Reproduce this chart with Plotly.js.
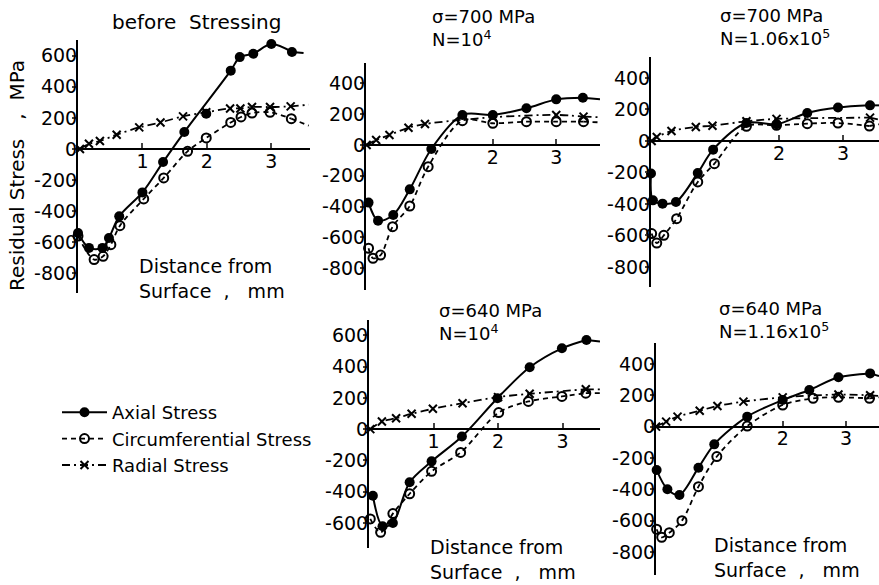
<!DOCTYPE html>
<html><head><meta charset="utf-8">
<script src="https://cdn.plot.ly/plotly-3.0.1.min.js"></script>
<style>html,body{margin:0;padding:0;background:#fff;}#c{width:879px;height:585px;}</style>
</head><body><div id="c"></div>
<script>
// ---- Data (distance from surface, mm ; residual stress, MPa) ----
// Panel 1: before Stressing
const p1AxialX = [0, 0.17, 0.38, 0.48, 0.64, 1.0, 1.32, 1.65, 2.37, 2.51, 2.72, 3.0, 3.32];
const p1AxialY = [-540, -636, -636, -572, -433, -279, -84, 109, 504, 591, 613, 675, 624];
const p1AxialExtraX = [1.99];   // filled point lying off the fitted axial curve
const p1AxialExtraY = [227];
const p1CircX = [0, 0.25, 0.39, 0.51, 0.65, 1.02, 1.33, 1.70, 1.99, 2.37, 2.53, 2.70, 2.98, 3.31];
const p1CircY = [-560, -711, -690, -615, -493, -321, -186, -15, 71, 171, 206, 231, 236, 195];
const p1RadX = [0.03, 0.17, 0.34, 0.6, 0.95, 1.28, 1.63, 1.99, 2.36, 2.52, 2.70, 2.98, 3.30];
const p1RadY = [0, 34, 51, 92, 139, 171, 210, 236, 261, 261, 270, 270, 274];
const p1TailX = [3.5, 3.58, 3.58];   // where each curve ends (axial, circ, radial)
const p1TailY = [617, 150, 285];
// Panel 2: sigma=700 MPa, N=10^4
const p2AxialX = [0.04, 0.19, 0.43, 0.69, 1.03, 1.52, 2.0, 2.53, 3.0, 3.42];
const p2AxialY = [-374, -491, -454, -288, -26, 195, 195, 238, 296, 307];
const p2CircX = [0.04, 0.11, 0.23, 0.42, 0.69, 0.98, 1.52, 2.0, 2.53, 3.0, 3.43];
const p2CircY = [-670, -735, -714, -530, -396, -141, 158, 141, 151, 151, 151];
const p2RadX = [0.01, 0.16, 0.37, 0.67, 0.93, 2.0, 3.0, 3.43];
const p2RadY = [0, 32, 65, 112, 136, 180, 195, 184];
const p2TailX = [3.69, 3.69, 3.69];
const p2TailY = [296, 147, 180];
// Panel 3: sigma=700 MPa, N=1.06x10^5
const p3AxialX = [0, 0.03, 0.18, 0.39, 0.73, 0.97, 1.49, 1.96, 2.44, 2.92, 3.42];
const p3AxialY = [-207, -377, -398, -387, -203, -55, 114, 106, 178, 212, 226];
const p3CircX = [0.01, 0.09, 0.2, 0.4, 0.73, 0.99, 1.49, 1.96, 2.44, 2.92, 3.41];
const p3CircY = [-588, -648, -599, -493, -260, -144, 93, 99, 110, 114, 95];
const p3RadX = [0.01, 0.09, 0.32, 0.70, 0.96, 1.49, 1.96, 3.42];
const p3RadY = [0, 25, 63, 89, 97, 125, 140, 148];
const p3TailX = [3.56, 3.56, 3.56];
const p3TailY = [226, 106, 135];
// Panel 4: sigma=640 MPa, N=10^4
const p4AxialX = [0.06, 0.21, 0.37, 0.63, 0.97, 1.44, 1.99, 2.49, 2.99, 3.37];
const p4AxialY = [-426, -621, -600, -340, -206, -47, 198, 396, 517, 570];
const p4CircX = [0.02, 0.18, 0.37, 0.63, 0.97, 1.42, 2.01, 2.47, 2.99, 3.36];
const p4CircY = [-574, -660, -540, -413, -270, -149, 106, 177, 209, 230];
const p4RadX = [0.02, 0.2, 0.42, 0.66, 0.99, 1.45, 2.0, 2.49, 3.36];
const p4RadY = [0, 49, 70, 98, 130, 166, 205, 226, 255];
const p4TailX = [3.58, 3.58, 3.58];
const p4TailY = [560, 230, 255];
// Panel 5: sigma=640 MPa, N=1.16x10^5
const p5AxialX = [0.01, 0.18, 0.37, 0.67, 0.92, 1.44, 2.0, 2.42, 2.88, 3.38];
const p5AxialY = [-277, -400, -436, -262, -113, 64, 170, 234, 315, 340];
const p5CircX = [0.01, 0.09, 0.21, 0.41, 0.67, 0.96, 1.44, 2.0, 2.48, 2.88, 3.37];
const p5CircY = [-655, -706, -677, -600, -383, -191, 4, 138, 181, 187, 181];
const p5RadX = [0, 0.16, 0.34, 0.69, 0.97, 1.38, 2.0, 2.88, 3.38];
const p5RadY = [0, 32, 64, 102, 132, 160, 187, 205, 200];
const p5TailX = [3.52, 3.52, 3.52];
const p5TailY = [323, 187, 196];

const seriesNames = ["Axial Stress", "Circumferential Stress", "Radial Stress"];
const panelTitles = [
  "before  Stressing",
  "σ=700 MPa<br>N=10<sup>4</sup>",
  "σ=700 MPa<br>N=1.06x10<sup>5</sup>",
  "σ=640 MPa<br>N=10<sup>4</sup>",
  "σ=640 MPa<br>N=1.16x10<sup>5</sup>"
];
const yTicks1 = [-800, -600, -400, -200, 0, 200, 400, 600];
const yTicks2 = [-800, -600, -400, -200, 0, 200, 400];
const yTicks4 = [-600, -400, -200, 0, 200, 400, 600];
const xTicksA = [1, 2, 3];
const xTicksB = [2, 3];
const yAxisTitle = "Residual Stress   ,  MPa";
const xAxisTitle = "Distance from<br>Surface  ,   mm";

// ---- Layout geometry (pixels) ----
const W = 879, H = 585;
const FONT = "DejaVu Sans, sans-serif";
const panels = [
  {ax: [p1AxialX, p1AxialY], ci: [p1CircX, p1CircY], ra: [p1RadX, p1RadY], tx: p1TailX, ty: p1TailY,
   px: [78, 310], py: [40, 293], xr: [0, 3.6], yr: [-926, 701], yt: yTicks1, xt: xTicksA},
  {ax: [p2AxialX, p2AxialY], ci: [p2CircX, p2CircY], ra: [p2RadX, p2RadY], tx: p2TailX, ty: p2TailY,
   px: [366, 600], py: [63, 290], xr: [0, 3.69], yr: [-941, 532], yt: yTicks2, xt: xTicksB},
  {ax: [p3AxialX, p3AxialY], ci: [p3CircX, p3CircY], ra: [p3RadX, p3RadY], tx: p3TailX, ty: p3TailY,
   px: [651, 879], py: [57, 287], xr: [0, 3.56], yr: [-927, 533], yt: yTicks2, xt: xTicksB},
  {ax: [p4AxialX, p4AxialY], ci: [p4CircX, p4CircY], ra: [p4RadX, p4RadY], tx: p4TailX, ty: p4TailY,
   px: [369, 600], py: [320, 548], xr: [0, 3.58], yr: [-760, 698], yt: yTicks4, xt: xTicksA},
  {ax: [p5AxialX, p5AxialY], ci: [p5CircX, p5CircY], ra: [p5RadX, p5RadY], tx: p5TailX, ty: p5TailY,
   px: [656, 879], py: [343, 575], xr: [0, 3.52], yr: [-947, 534], yt: yTicks2, xt: xTicksB}
];

const fx = p => p / W;
const fy = p => 1 - p / H;

const data = [];
const layout = {
  width: W, height: H, margin: {l: 0, r: 0, t: 0, b: 0},
  paper_bgcolor: "#fff", plot_bgcolor: "rgba(0,0,0,0)",
  font: {family: FONT, color: "#000", size: 18},
  showlegend: true,
  legend: {x: fx(57), y: fy(394), xanchor: "left", yanchor: "top",
           font: {family: FONT, size: 18}, itemwidth: 45, bgcolor: "rgba(0,0,0,0)",
           tracegroupgap: 0},
  annotations: [], shapes: []
};

const lineStyles = [
  {line: {color: "#000", width: 2, shape: "spline", smoothing: 0.9},
   marker: {symbol: "circle", size: 10, color: "#000"}},
  {line: {color: "#000", width: 1.8, dash: "5px,4px", shape: "spline", smoothing: 0.9},
   marker: {symbol: "circle-open", size: 9, color: "#000", line: {width: 2}}},
  {line: {color: "#000", width: 1.8, dash: "8px,4px,2px,4px", shape: "spline", smoothing: 0.9},
   marker: {symbol: "x-thin-open", size: 8, color: "#000", line: {width: 2, color: "#000"}}}
];

panels.forEach((p, i) => {
  const n = i + 1;
  const xa = "x" + (n === 1 ? "" : n), ya = "y" + (n === 1 ? "" : n);
  const xk = "xaxis" + (n === 1 ? "" : n), yk = "yaxis" + (n === 1 ? "" : n);
  const yd = [fy(p.py[1]), fy(p.py[0])];
  const zeroPos = yd[0] + (0 - p.yr[0]) / (p.yr[1] - p.yr[0]) * (yd[1] - yd[0]);
  layout[xk] = {domain: [fx(p.px[0]), fx(p.px[1])], range: p.xr, anchor: "free", position: zeroPos,
    showline: true, linewidth: 2, linecolor: "#000", ticks: "inside", ticklen: 5, tickwidth: 2,
    tickvals: p.xt, ticktext: p.xt.map(String), showgrid: false, zeroline: false,
    ticklabelstandoff: -5, tickfont: {family: FONT, size: 19}, fixedrange: true};
  layout[yk] = {domain: yd, range: p.yr, anchor: xa, showline: true, linewidth: 2, linecolor: "#000",
    ticks: "outside", ticklen: 4, tickwidth: 2, tickvals: p.yt,
    ticktext: p.yt.map(v => (v < 0 ? "-" + Math.abs(v) : String(v))),
    showgrid: false, zeroline: false, tickfont: {family: FONT, size: 19}, ticklabelstandoff: -9,
    fixedrange: true};
  const common = {xaxis: xa, yaxis: ya, type: "scatter", mode: "lines+markers", cliponaxis: false,
    hoverinfo: "skip"};
  [p.ax, p.ci, p.ra].forEach((s, k) => {
    // curve continuation from the last measured point to where the drawn curve ends
    const last = s[0].length - 1;
    data.push(Object.assign({}, common, {x: [s[0][last], p.tx[k]], y: [s[1][last], p.ty[k]],
      mode: "lines", showlegend: false, line: Object.assign({}, lineStyles[k].line, {shape: "linear"})}));
    data.push(Object.assign({}, common, lineStyles[k], {x: s[0], y: s[1], name: seriesNames[k],
      showlegend: n === 1, legendrank: k + 1}));
  });
  if (n === 1) {
    data.push(Object.assign({}, common, {x: p1AxialExtraX, y: p1AxialExtraY, mode: "markers",
      showlegend: false, marker: lineStyles[0].marker}));
  }
});

// Panel titles
layout.annotations.push({xref: "paper", yref: "paper", x: fx(196), y: fy(22), text: panelTitles[0],
  showarrow: false, font: {family: FONT, size: 20}, xanchor: "center", yanchor: "middle"});
const tpos = [[430, 28], [718, 27], [437, 322], [717, 320]];
tpos.forEach((t, k) => {
  layout.annotations.push({xref: "paper", yref: "paper", x: fx(t[0]), y: fy(t[1]), text: panelTitles[k + 1],
    showarrow: false, align: "left", font: {family: FONT, size: 18}, xanchor: "left", yanchor: "middle"});
});
// Axis titles
layout.annotations.push({xref: "paper", yref: "paper", x: fx(17), y: fy(176), text: yAxisTitle, textangle: -90,
  showarrow: false, font: {family: FONT, size: 20}, xanchor: "center", yanchor: "middle"});
[[137, 278], [428, 559], [712, 557]].forEach(t => {
  layout.annotations.push({xref: "paper", yref: "paper", x: fx(t[0]), y: fy(t[1]), text: xAxisTitle,
    showarrow: false, align: "left", font: {family: FONT, size: 19}, xanchor: "left", yanchor: "middle"});
});

Plotly.newPlot("c", data, layout, {staticPlot: true, displayModeBar: false});
</script>
</body></html>
